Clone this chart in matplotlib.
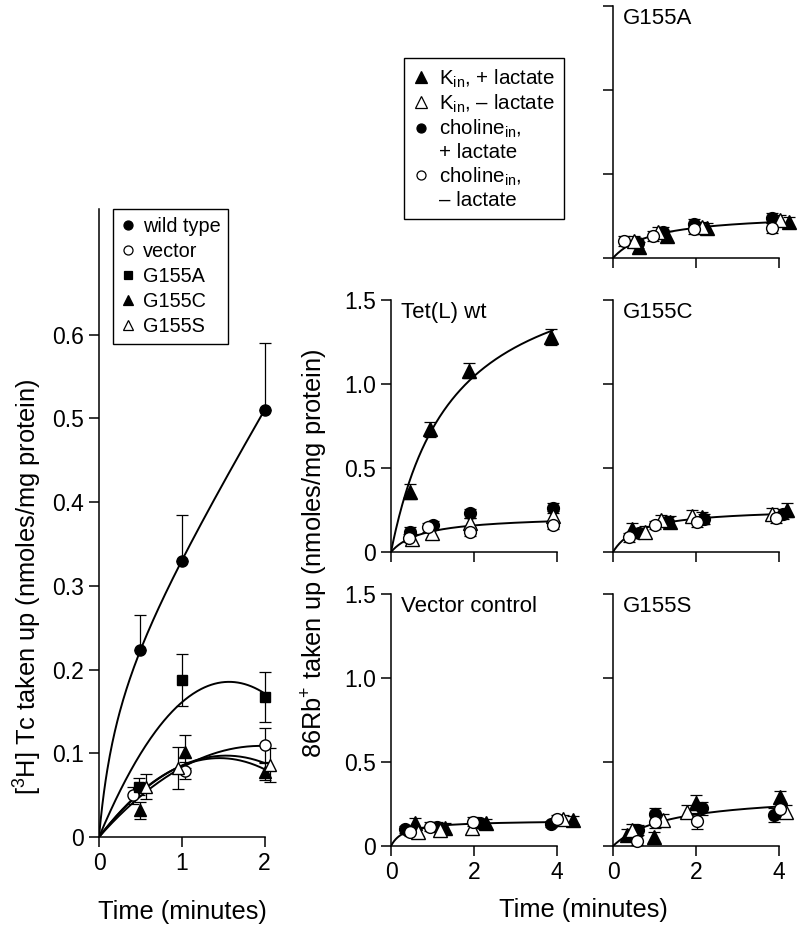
import numpy as np
import matplotlib.pyplot as plt
from matplotlib.lines import Line2D

plt.rcParams['font.family'] = ['Liberation Sans', 'DejaVu Sans']
plt.rcParams['mathtext.fontset'] = 'custom'
plt.rcParams['mathtext.rm'] = 'Liberation Sans'
plt.rcParams['mathtext.it'] = 'Liberation Sans:italic'
plt.rcParams['axes.linewidth'] = 1.1

# ---- left panel: [3H] Tc uptake ----
tc_names = ['wild type', 'vector', 'G155A', 'G155C', 'G155S']
tc_t = [[0.50, 1.00, 2.00], [0.41, 1.04, 2.00], [0.48, 1.00, 2.00],
        [0.49, 1.04, 2.00], [0.57, 0.95, 2.06]]
tc_y = [[0.223, 0.330, 0.510], [0.050, 0.079, 0.110], [0.060, 0.187, 0.167],
        [0.032, 0.102, 0.078], [0.060, 0.082, 0.086]]
tc_err_hi = [[0.042, 0.055, 0.080], [0.010, 0.010, 0.020], [0.010, 0.031, 0.030],
             [0.010, 0.020, 0.010], [0.015, 0.025, 0.020]]
tc_err_lo = [[0.0, 0.0, 0.0], [0.010, 0.010, 0.020], [0.010, 0.031, 0.030],
             [0.010, 0.020, 0.010], [0.015, 0.025, 0.020]]
tc_fit = ['hyperlin', 'quad', 'quad', 'quad', 'quad']

# ---- right panels: 86Rb+ uptake ----
# series order: K_in +lactate, K_in -lactate, choline_in +lactate, choline_in -lactate
rb_labels = ['K$_{\\rm in}$, + lactate', 'K$_{\\rm in}$, \u2013 lactate',
             'choline$_{\\rm in}$,', 'choline$_{\\rm in}$,']
rb_second_line = [None, None, '+ lactate', '\u2013 lactate']

tetl_t = [[0.46, 0.94, 1.89, 3.85], [0.50, 0.98, 1.90, 3.90],
          [0.46, 1.02, 1.90, 3.90], [0.44, 0.90, 1.90, 3.90]]
tetl_y = [[0.360, 0.730, 1.080, 1.280], [0.075, 0.111, 0.171, 0.214],
          [0.121, 0.161, 0.230, 0.260], [0.085, 0.147, 0.121, 0.161]]
tetl_e = [[0.045, 0.045, 0.045, 0.048], [0.030, 0.030, 0.030, 0.030],
          [0.025, 0.025, 0.025, 0.030], [0.025, 0.025, 0.025, 0.025]]

vec_t = [[0.58, 1.30, 2.30, 4.38], [0.66, 1.18, 1.94, 4.14],
         [0.34, 1.10, 2.14, 3.85], [0.46, 0.94, 1.97, 3.99]]
vec_y = [[0.135, 0.105, 0.135, 0.155], [0.085, 0.095, 0.105, 0.159],
         [0.099, 0.115, 0.139, 0.131], [0.085, 0.115, 0.145, 0.159]]
vec_e = [[0.030, 0.030, 0.025, 0.025], [0.025, 0.025, 0.030, 0.025],
         [0.020, 0.025, 0.020, 0.020], [0.025, 0.025, 0.025, 0.025]]

g155a_t = [[0.63, 1.29, 2.27, 4.25], [0.50, 1.09, 2.14, 4.02],
           [0.61, 1.21, 1.94, 3.84], [0.27, 0.97, 1.94, 3.84]]
g155a_y = [[0.067, 0.133, 0.180, 0.216], [0.100, 0.153, 0.187, 0.226],
           [0.091, 0.157, 0.200, 0.240], [0.101, 0.133, 0.171, 0.177]]
g155a_e = [[0.030, 0.030, 0.030, 0.030], [0.030, 0.030, 0.030, 0.030],
           [0.030, 0.030, 0.030, 0.030], [0.030, 0.030, 0.030, 0.030]]

g155c_t = [[0.45, 1.37, 2.14, 4.19], [0.77, 1.15, 1.90, 3.82],
           [0.63, 1.33, 2.19, 4.10], [0.39, 1.01, 2.02, 3.93]]
g155c_y = [[0.135, 0.177, 0.206, 0.250], [0.121, 0.190, 0.214, 0.226],
           [0.115, 0.180, 0.194, 0.225], [0.087, 0.161, 0.181, 0.200]]
g155c_e = [[0.035, 0.035, 0.035, 0.040], [0.035, 0.030, 0.035, 0.035],
           [0.030, 0.030, 0.030, 0.030], [0.025, 0.025, 0.030, 0.030]]

g155s_t = [[0.33, 0.99, 2.00, 4.02], [0.45, 1.21, 1.79, 4.18],
           [0.61, 1.01, 2.14, 3.88], [0.57, 1.01, 2.02, 4.02]]
g155s_y = [[0.065, 0.056, 0.258, 0.290], [0.095, 0.155, 0.204, 0.204],
           [0.095, 0.188, 0.224, 0.185], [0.032, 0.145, 0.149, 0.218]]
g155s_e = [[0.035, 0.030, 0.045, 0.040], [0.035, 0.035, 0.040, 0.040],
           [0.030, 0.040, 0.040, 0.040], [0.025, 0.040, 0.045, 0.040]]


def quad_curve(t, y, tt):
    # y = a t + b t^2, through the origin
    t = np.asarray(t); y = np.asarray(y)
    a, b = np.linalg.lstsq(np.column_stack([t, t**2]), y, rcond=None)[0]
    return a * tt + b * tt**2


def hyperlin_curve(t, y, tt):
    # y = V t / (K + t) + c t, brute force on K
    t = np.asarray(t); y = np.asarray(y)
    best = None
    for K in np.linspace(0.05, 4, 400):
        A = np.column_stack([t / (K + t), t])
        coef = np.linalg.lstsq(A, y, rcond=None)[0]
        r = ((A @ coef - y) ** 2).sum()
        if best is None or r < best[0]:
            best = (r, K, coef)
    _, K, (V, c) = best
    return V * tt / (K + tt) + c * tt


def hyper_fit(t, y):
    # y = V t / (K + t), brute force on K
    t = np.asarray(t); y = np.asarray(y)
    best = (1e9, 0, 1)
    for K in np.linspace(0.05, 6, 600):
        f = t / (K + t)
        V = (y * f).sum() / (f * f).sum()
        r = ((y - V * f) ** 2).sum()
        if r < best[0]:
            best = (r, V, K)
    return best[1], best[2]


fig = plt.figure(figsize=(8, 9.33), dpi=100)
W, H = 800.0, 933.0
TICK_FS = 16.5
LABEL_FS = 18.3


def px_axes(x0, ytop, x1, ybot):
    return fig.add_axes([x0 / W, 1 - ybot / H, (x1 - x0) / W, (ybot - ytop) / H])


def style(ax, xb):
    for s in ['top', 'right']:
        ax.spines[s].set_visible(False)
    ax.spines['bottom'].set_bounds(*xb)
    ax.tick_params(direction='out', length=7, width=1.1, labelsize=TICK_FS, pad=4)


# ---------------- left panel ----------------
axl = px_axes(99, 209, 277, 837)
tc_markers = [dict(marker='o', mfc='black', ms=8), dict(marker='o', mfc='white', ms=8),
              dict(marker='s', mfc='black', ms=7), dict(marker='^', mfc='black', ms=9),
              dict(marker='^', mfc='white', ms=9)]
tgrid = np.linspace(0, 2, 200)
handles = []
for i in range(5):
    if tc_fit[i] == 'hyperlin':
        yy = hyperlin_curve([0] + tc_t[i], [0] + tc_y[i], tgrid)
    else:
        yy = quad_curve([0] + tc_t[i], [0] + tc_y[i], tgrid)
    axl.plot(tgrid, yy, color='black', lw=1.4, zorder=2)
for i in range(5):
    m = tc_markers[i]
    axl.errorbar(tc_t[i], tc_y[i], yerr=[tc_err_lo[i], tc_err_hi[i]], fmt='none',
                 ecolor='black', elinewidth=0.9, capsize=4, capthick=0.9, zorder=3,
                 clip_on=False)
    axl.plot(tc_t[i], tc_y[i], ls='none', marker=m['marker'], ms=m['ms'],
             mfc=m['mfc'], mec='black', mew=1.0, zorder=4, clip_on=False)
    handles.append(Line2D([], [], ls='none', marker=m['marker'], ms=m['ms'] - 1.5,
                          mfc=m['mfc'], mec='black', mew=0.9, label=tc_names[i]))
axl.set_xlim(0, 2.15)
axl.set_ylim(0, 0.75)
axl.set_xticks([0, 1, 2])
axl.set_yticks([0, 0.1, 0.2, 0.3, 0.4, 0.5, 0.6])
axl.set_yticklabels(['0', '0.1', '0.2', '0.3', '0.4', '0.5', '0.6'])
style(axl, (0, 2))
leg = axl.legend(handles=handles, loc='upper left', bbox_to_anchor=(0.078, 1.0),
                 borderaxespad=0, fontsize=14.3, frameon=True, fancybox=False,
                 edgecolor='black', framealpha=1, handlelength=0.7,
                 handletextpad=0.4, labelspacing=0.3, borderpad=0.4)
leg.get_frame().set_linewidth(1.0)

fig.text(28 / W, 1 - 587 / H, '[$^{3}$H] Tc taken up (nmoles/mg protein)',
         rotation=90, ha='center', va='center', fontsize=LABEL_FS)
fig.text(182 / W, 1 - 912 / H, 'Time (minutes)', ha='center', va='center',
         fontsize=LABEL_FS)

# ---------------- right panels ----------------
rb_markers = [dict(marker='^', mfc='black', ms=10), dict(marker='^', mfc='white', ms=10),
              dict(marker='o', mfc='black', ms=8.5), dict(marker='o', mfc='white', ms=8.5)]

panels = [
    ('G155A', g155a_t, g155a_y, g155a_e, 613, 6, 258, False, False, False),
    ('Tet(L) wt', tetl_t, tetl_y, tetl_e, 391, 300, 552, True, False, True),
    ('G155C', g155c_t, g155c_y, g155c_e, 613, 300, 552, False, False, False),
    ('Vector control', vec_t, vec_y, vec_e, 391, 594, 846, True, True, False),
    ('G155S', g155s_t, g155s_y, g155s_e, 613, 594, 846, False, True, False),
]
tg = np.linspace(0, 3.9, 200)
for name, ts, ys, es, x0, ytop, ybot, ylab, xlab, split in panels:
    ax = px_axes(x0, ytop, x0 + 4.5 * 41.5, ybot)
    if split:
        # K_in + lactate gets its own curve, the low group is fitted on the open symbols
        V, K = hyper_fit(ts[0], ys[0])
        ax.plot(tg, V * tg / (K + tg), color='black', lw=1.4, zorder=2)
        pool_t = ts[1] + ts[3]; pool_y = ys[1] + ys[3]
    else:
        pool_t = sum(ts, []); pool_y = sum(ys, [])
    V, K = hyper_fit(pool_t, pool_y)
    ax.plot(tg, V * tg / (K + tg), color='black', lw=1.4, zorder=2)
    for i in range(4):
        m = rb_markers[i]
        ax.errorbar(ts[i], ys[i], yerr=es[i], fmt='none', ecolor='black',
                    elinewidth=0.9, capsize=4, capthick=0.9, zorder=3, clip_on=False)
        ax.plot(ts[i], ys[i], ls='none', marker=m['marker'], ms=m['ms'],
                mfc=m['mfc'], mec='black', mew=1.0, zorder=4 + (i % 2), clip_on=False)
    ax.set_xlim(0, 4.5)
    ax.set_ylim(0, 1.5)
    ax.set_xticks([0, 2, 4])
    ax.set_yticks([0, 0.5, 1.0, 1.5])
    ax.set_yticklabels(['0', '0.5', '1.0', '1.5'] if ylab else [])
    if not xlab:
        ax.set_xticklabels([])
    style(ax, (0, 4))
    ax.text(0.25, 1.49, name, ha='left', va='top', fontsize=16)

fig.text(315 / W, 1 - 553 / H, '86Rb$^{+}$ taken up (nmoles/mg protein)',
         rotation=90, ha='center', va='center', fontsize=LABEL_FS)
fig.text(583 / W, 1 - 910 / H, 'Time (minutes)', ha='center', va='center',
         fontsize=LABEL_FS)

# legend for the Rb panels
rb_handles = []
rb_texts = []
for i in range(4):
    m = rb_markers[i]
    rb_handles.append(Line2D([], [], ls='none', marker=m['marker'], ms=m['ms'] - 2,
                             mfc=m['mfc'], mec='black', mew=0.9))
    rb_texts.append(rb_labels[i])
    if rb_second_line[i]:
        rb_handles.append(Line2D([], [], ls='none'))
        rb_texts.append(rb_second_line[i])
lg2 = fig.legend(rb_handles, rb_texts, loc='upper left', bbox_to_anchor=(404 / W, 1 - 58 / H),
                 bbox_transform=fig.transFigure, borderaxespad=0, fontsize=14.8,
                 frameon=True, fancybox=False, edgecolor='black', framealpha=1,
                 handlelength=0.8, handletextpad=0.45, labelspacing=0.15, borderpad=0.45)
lg2.get_frame().set_linewidth(1.0)

fig.savefig('out.png', dpi=100)
